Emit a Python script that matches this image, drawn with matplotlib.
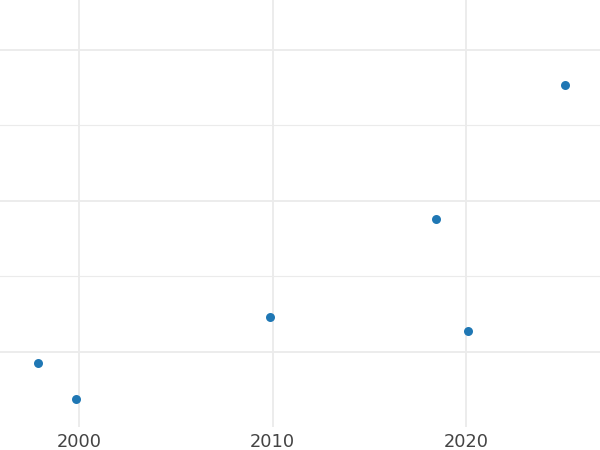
import matplotlib
matplotlib.use("Agg")
import matplotlib.pyplot as plt
from matplotlib.ticker import MultipleLocator

years = [1997.88, 1999.84, 2009.87, 2018.45, 2020.10, 2025.13]
values = [9.27, 6.89, 12.32, 18.81, 11.39, 27.68]
xticks = [2000, 2010, 2020]

fig = plt.figure(figsize=(6, 4.5), dpi=100)
ax = fig.add_axes([0, 1 - 427 / 450, 1, 427 / 450])
ax.scatter(years, values, s=42, color="#1f77b4", zorder=3, linewidths=0)

ax.set_xlim(1995.90, 2026.94)
ax.set_ylim(5.03, 33.31)
ax.set_xticks(xticks)
ax.set_xticklabels([str(t) for t in xticks])
ax.yaxis.set_major_locator(MultipleLocator(10))
ax.yaxis.set_minor_locator(MultipleLocator(5))
ax.set_yticklabels([])
ax.tick_params(axis="both", which="both", length=0)
ax.tick_params(axis="x", labelsize=12.8, labelcolor="#444444", pad=4)
ax.grid(True, which="major", color="#ebebeb", linewidth=1.3)
ax.grid(True, which="minor", axis="y", color="#ebebeb", linewidth=0.8)
ax.set_axisbelow(True)
for s in ax.spines.values():
    s.set_visible(False)

fig.savefig("out.png", dpi=100)
